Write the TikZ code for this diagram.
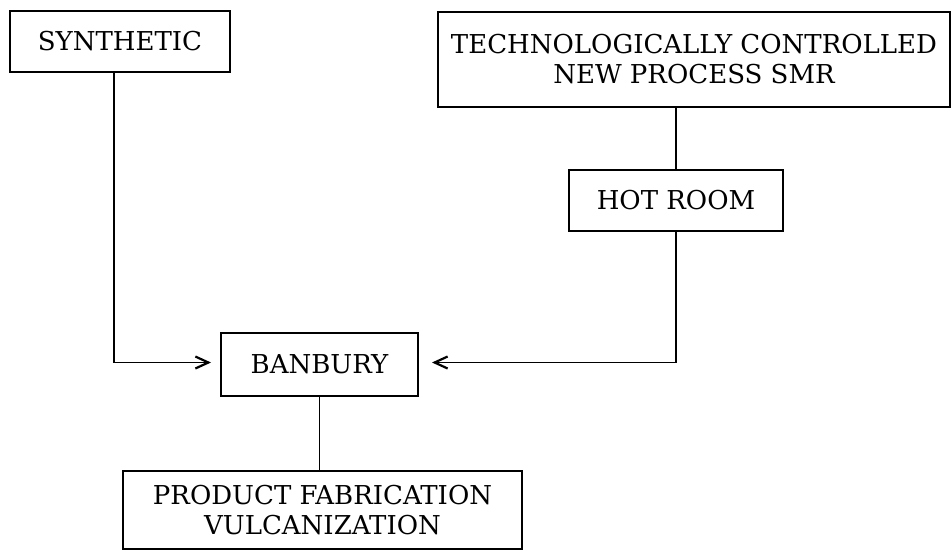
\documentclass[tikz,border=0pt]{standalone}
\usepackage{fontspec}
\setmainfont{DejaVu Serif}
\usepackage{tikz}
\usetikzlibrary{arrows.meta, positioning}
\tikzstyle{stage} = [rectangle,
minimum height=30.5pt,
text centered,
align=center,
inner sep=2pt,
line width=1pt,
font=\fontsize{13}{15}\selectfont,
draw=black]
\tikzstyle{link} = [line width=0.7pt,draw=black]
\tikzstyle{arrow} = [line width=0.7pt,-{Straight Barb[length=6.5pt,width=6pt,line width=1.1pt]},draw=black]

\begin{document}
\begin{tikzpicture}[x=0.5pt, y=-0.5pt]
        \useasboundingbox (0,0) rectangle (952,551);
        % Cajas
        \node [stage, minimum width=110pt] (syn) at (120,41.5) {SYNTHETIC};
        \node [stage, minimum width=256pt, minimum height=47.5pt] (tech) at (694,59.5) {TECHNOLOGICALLY CONTROLLED\\ NEW PROCESS SMR};
        \node [stage, minimum width=107pt] (hot) at (676,200.5) {HOT ROOM};
        \node [stage, minimum width=98.5pt, minimum height=31.5pt] (ban) at (319.5,364.5) {BANBURY};
        \node [stage, minimum width=199.5pt, minimum height=39pt] (prod) at (322.5,510) {PRODUCT FABRICATION\\ VULCANIZATION};

        % Conexiones
        \path [link] (hot.north) -- (hot.north |- tech.south);
        \path [arrow] ([xshift=-3pt]syn.south) |- ([xshift=-4.5pt,yshift=1pt]ban.west);
        \path [arrow] (hot.south) |- ([xshift=6.5pt,yshift=1pt]ban.east);
        \path [link] (ban.south) -- (ban.south |- prod.north);
    \end{tikzpicture}
\end{document}
